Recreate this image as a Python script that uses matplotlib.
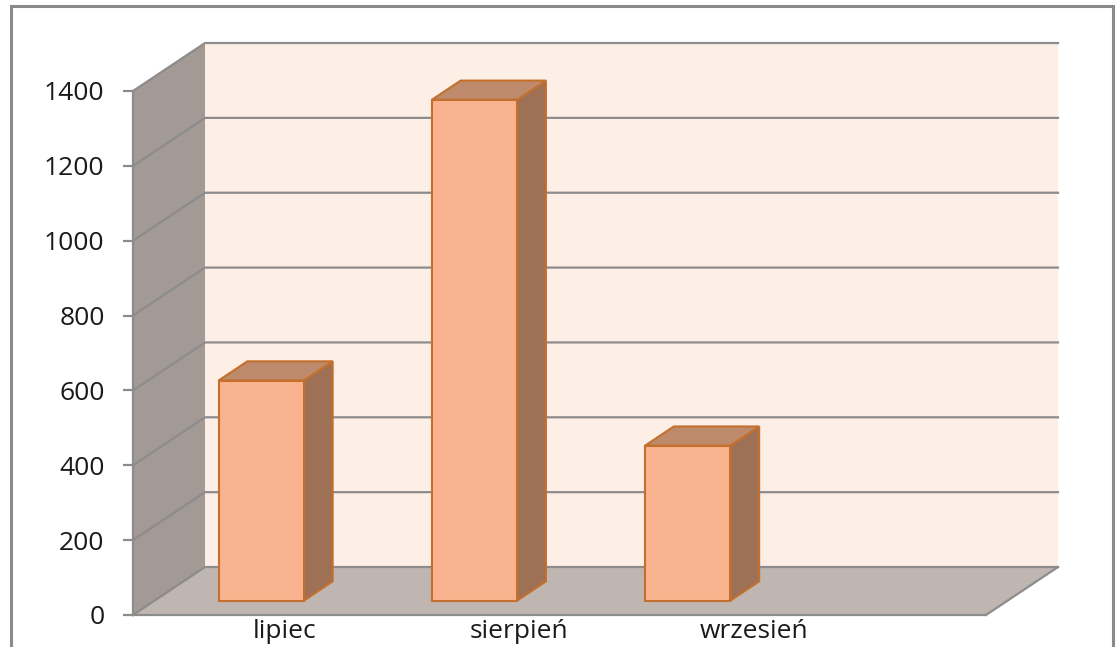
import numpy as np
import matplotlib
matplotlib.use('Agg')
import matplotlib.pyplot as plt
from matplotlib.patches import Polygon, Rectangle

months = ['lipiec', 'sierpień', 'wrzesień']
values = [588, 1338, 414]
yticks = [0, 200, 400, 600, 800, 1000, 1200, 1400]

plt.rcParams['font.family'] = ['Open Sans', 'DejaVu Sans']

# oblique "3D" look: depth offset in data units (category / value)
DX, DY = 0.3376, 128.2
NSLOT = 4
YMAX = 1400


def proj(x, v, d):
    return (x + d * DX, v + d * DY)


fig = plt.figure(figsize=(11.17, 6.47), dpi=100)
ax = fig.add_axes([133 / 1117, 32 / 647, 853 / 1117, 524 / 647])
ax.set_xlim(-0.5, NSLOT - 0.5)
ax.set_ylim(0, YMAX)
ax.patch.set_alpha(0)

grid_c = '#8c8c8c'
x0, x1 = -0.5, NSLOT - 0.5

# back wall
ax.add_patch(Polygon([proj(x0, 0, 1), proj(x1, 0, 1), proj(x1, YMAX, 1), proj(x0, YMAX, 1)],
                     closed=True, facecolor='#fdeee6', edgecolor='none', clip_on=False, zorder=1))
# side wall
ax.add_patch(Polygon([proj(x0, 0, 0), proj(x0, 0, 1), proj(x0, YMAX, 1), proj(x0, YMAX, 0)],
                     closed=True, facecolor='#a39a95', edgecolor='none', clip_on=False, zorder=1))
# floor
ax.add_patch(Polygon([proj(x0, 0, 0), proj(x1, 0, 0), proj(x1, 0, 1), proj(x0, 0, 1)],
                     closed=True, facecolor='#c0b6b1', edgecolor='none', clip_on=False, zorder=1))

# gridlines on side wall + back wall
for v in yticks:
    pts = [proj(x0, v, 0), proj(x0, v, 1), proj(x1, v, 1)]
    ax.plot([p[0] for p in pts], [p[1] for p in pts], color=grid_c, lw=1.6,
            clip_on=False, zorder=2)
# floor right edge
pts = [proj(x1, 0, 0), proj(x1, 0, 1)]
ax.plot([p[0] for p in pts], [p[1] for p in pts], color=grid_c, lw=1.6, clip_on=False, zorder=2)

# bars
bw = 0.4
d0, d1 = 0.3, 0.7
edge = '#c4702c'
for i, v in enumerate(values):
    l, r = i - bw / 2, i + bw / 2
    side = [proj(r, 0, d0), proj(r, 0, d1), proj(r, v, d1), proj(r, v, d0)]
    top = [proj(l, v, d0), proj(r, v, d0), proj(r, v, d1), proj(l, v, d1)]
    front = [proj(l, 0, d0), proj(r, 0, d0), proj(r, v, d0), proj(l, v, d0)]
    ax.add_patch(Polygon(side, closed=True, facecolor='#9e7157', edgecolor=edge, lw=1.5,
                         clip_on=False, zorder=3))
    ax.add_patch(Polygon(top, closed=True, facecolor='#bd8a6c', edgecolor=edge, lw=1.5,
                         clip_on=False, zorder=3))
    ax.add_patch(Polygon(front, closed=True, facecolor='#f9b48f', edgecolor=edge, lw=1.5,
                         clip_on=False, zorder=4))

# axes styling
for s in ['top', 'right']:
    ax.spines[s].set_visible(False)
for s in ['left', 'bottom']:
    ax.spines[s].set_color(grid_c)
    ax.spines[s].set_linewidth(1.6)
    ax.spines[s].set_zorder(2)

ax.set_yticks(yticks)
ax.tick_params(axis='y', direction='out', length=7.5, width=1.6, color=grid_c,
               labelsize=19, pad=13, labelcolor='#1a1a1a')
ax.set_xticks(np.arange(len(months)) * 1.1 + 0.21)
ax.set_xticklabels(months)
ax.tick_params(axis='x', length=0, labelsize=19, pad=3, labelcolor='#1a1a1a')

# chart border
fig.patches.append(Rectangle((11 / 1117, -0.02), 1102 / 1117, 1 - 6 / 647 + 0.02,
                             transform=fig.transFigure, fill=False,
                             edgecolor='#8a8a8a', lw=2.2))

fig.savefig('out.png', dpi=100)
